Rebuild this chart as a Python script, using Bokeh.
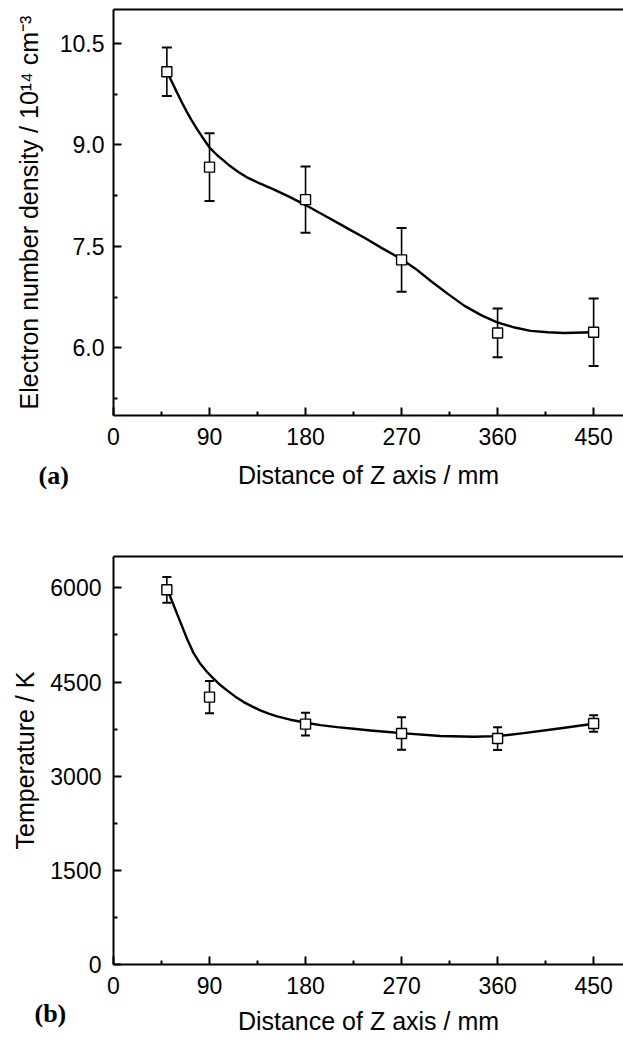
from bokeh.plotting import figure
from bokeh.layouts import column
from bokeh.models import Range1d, FixedTicker, LinearAxis, Label, PrintfTickFormatter
from bokeh.embed import file_html
from bokeh.resources import INLINE

# ---------------- data ----------------
z_mm = [50, 90, 180, 270, 360, 450]

ne = [10.08, 8.67, 8.19, 7.30, 6.22, 6.23]
ne_err = [0.36, 0.50, 0.49, 0.47, 0.36, 0.50]

ne_fit_x = [50, 55, 59, 64, 69, 73, 78, 83, 90, 97, 103, 109, 117, 125, 137, 149, 165, 180,
            196, 211, 221, 236, 252, 270, 283, 298, 314, 329, 345, 359, 376, 391, 407, 422, 450]
ne_fit_y = [10.08, 9.92, 9.79, 9.63, 9.48, 9.37, 9.24, 9.12, 8.96, 8.85, 8.77, 8.69, 8.60, 8.52,
            8.43, 8.35, 8.23, 8.11, 7.97, 7.84, 7.75, 7.62, 7.47, 7.31, 7.17, 6.98, 6.79, 6.62,
            6.48, 6.38, 6.30, 6.25, 6.23, 6.22, 6.23]

temp = [5970, 4260, 3830, 3680, 3600, 3840]
temp_err = [205, 257, 181, 260, 181, 130]

t_fit_x = [50, 54.8, 59.5, 64.2, 68.9, 75.1, 81.4, 87.7, 93.8, 100.1, 106.4, 114.2, 122, 129.8,
           137.6, 145.4, 153.3, 165.7, 180.5, 193.9, 209.5, 225.1, 240.7, 255, 270, 306.4, 337.6,
           360, 384.5, 415.8, 450]
t_fit_y = [5990, 5790, 5590, 5390, 5190, 4960, 4790, 4660, 4554, 4452, 4368, 4267, 4181, 4112,
           4049, 3996, 3953, 3900, 3852, 3814, 3782, 3756, 3729, 3708, 3686, 3640, 3629,
           3638, 3686, 3756, 3836]

x_ticks = [0, 90, 180, 270, 360, 450]
x_minor = [45, 135, 225, 315, 405]
ne_ticks = [6.0, 7.5, 9.0, 10.5]
ne_minor = [5.25, 6.75, 8.25, 9.75]
t_ticks = [0, 1500, 3000, 4500, 6000]
t_minor = [750, 2250, 3750, 5250]

x_title = "Distance of Z axis / mm"
ne_title = "Electron number density / 10\u00b9\u2074 cm\u207b\u00b3"
t_title = "Temperature / K"
panel_a = "(a)"
panel_b = "(b)"

FONT = "Liberation Sans"


def style(p, xt, xm, yt, ym, yfmt, ystand, ylabel_stand, xlabel_stand):
    p.xgrid.visible = False
    p.ygrid.visible = False
    for ax in (p.xaxis[0], p.yaxis[0]):
        ax.axis_line_width = 2
        ax.axis_line_color = "black"
        ax.major_tick_in = 8
        ax.major_tick_out = 0
        ax.minor_tick_in = 4
        ax.minor_tick_out = 0
        ax.major_tick_line_width = 2
        ax.minor_tick_line_width = 2
        ax.major_label_text_font = FONT
        ax.major_label_text_font_size = "23px"
        ax.major_label_text_color = "black"
        ax.axis_label_text_font = FONT
        ax.axis_label_text_font_size = "25px"
        ax.axis_label_text_font_style = "normal"
        ax.axis_label_text_color = "black"
    p.xaxis[0].ticker = FixedTicker(ticks=xt, minor_ticks=xm)
    p.yaxis[0].ticker = FixedTicker(ticks=yt, minor_ticks=ym)
    p.yaxis[0].formatter = PrintfTickFormatter(format=yfmt)
    p.xaxis[0].major_label_standoff = 12
    p.yaxis[0].major_label_standoff = ystand
    p.xaxis[0].axis_label_standoff = xlabel_stand
    p.yaxis[0].axis_label_standoff = ylabel_stand
    top = LinearAxis(ticker=FixedTicker(ticks=[]), axis_line_width=2,
                     major_tick_in=0, major_tick_out=0, minor_tick_in=0, minor_tick_out=0,
                     major_label_standoff=0, major_label_text_font_size="0px")
    p.add_layout(top, "above")


def draw(p, x, y, err, fx, fy, cap):
    lo = [v - e for v, e in zip(y, err)]
    hi = [v + e for v, e in zip(y, err)]
    p.segment(x0=x, y0=lo, x1=x, y1=hi, line_color="black", line_width=1.6)
    p.dash(x=x, y=lo, size=cap, line_color="black", line_width=2)
    p.dash(x=x, y=hi, size=cap, line_color="black", line_width=2)
    p.line(fx, fy, line_color="black", line_width=2.4, line_join="round")
    p.scatter(x, y, marker="square", size=10, fill_color="white", line_color="black", line_width=1.4)


def panel_label(text, x, y):
    return Label(x=x, y=y, x_units="screen", y_units="screen", text=text,
                 text_font="Liberation Serif", text_font_style="bold", text_font_size="26px",
                 text_align="left", text_baseline="middle", text_color="black")


# ---------------- panel (a) ----------------
p1 = figure(width=623, height=523, x_range=Range1d(0, 478), y_range=Range1d(5, 11),
            output_backend="svg", toolbar_location=None,
            min_border_left=109, min_border_right=0, min_border_top=9, min_border_bottom=108,
            outline_line_color=None, x_axis_label=x_title, y_axis_label=ne_title)
style(p1, x_ticks, x_minor, ne_ticks, ne_minor, "%.1f", 9, 14, 13)
draw(p1, z_mm, ne, ne_err, ne_fit_x, ne_fit_y, 10)
p1.add_layout(panel_label(panel_a, -75, 45), "below")

# ---------------- panel (b) ----------------
p2 = figure(width=623, height=517, x_range=Range1d(0, 478), y_range=Range1d(0, 6500),
            output_backend="svg", toolbar_location=None,
            min_border_left=113, min_border_right=0, min_border_top=33, min_border_bottom=76,
            outline_line_color=None, x_axis_label=x_title, y_axis_label=t_title)
style(p2, x_ticks, x_minor, t_ticks, t_minor, "%d", 12, 8, 10)
draw(p2, z_mm, temp, temp_err, t_fit_x, t_fit_y, 9)
p2.add_layout(panel_label(panel_b, -79, -457), "above")

layout = column(p1, p2)
open("out.html", "w").write(file_html(layout, INLINE))
